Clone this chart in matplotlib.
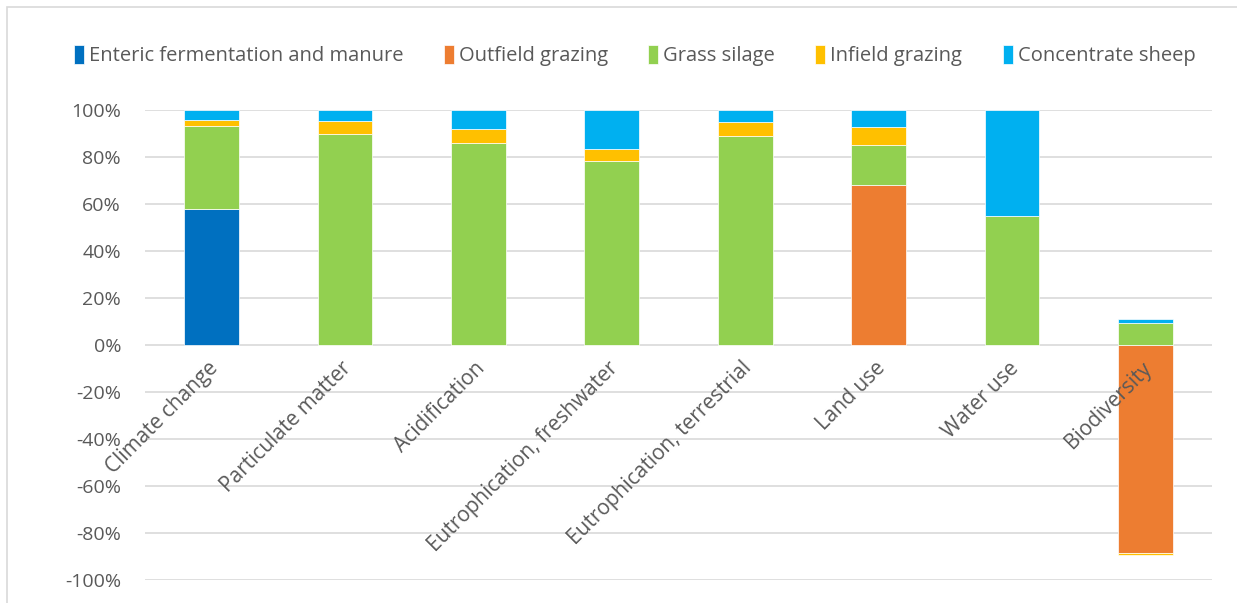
import matplotlib
matplotlib.use("Agg")
import matplotlib.pyplot as plt
from matplotlib.patches import Rectangle
from matplotlib.ticker import FuncFormatter
import numpy as np

categories = ["Climate change", "Particulate matter", "Acidification",
              "Eutrophication, freshwater", "Eutrophication, terrestrial",
              "Land use", "Water use", "Biodiversity"]

series_names = ["Enteric fermentation and manure", "Outfield grazing",
                "Grass silage", "Infield grazing", "Concentrate sheep"]

enteric = [57.7, 0, 0, 0, 0, 0, 0, 0]
outfield = [0, 0, 0, 0, 0, 68.1, 0, -88.7]
grass_silage = [35.3, 89.5, 85.9, 78.3, 88.7, 16.7, 54.9, 9.3]
infield = [2.5, 5.7, 5.8, 4.8, 5.9, 7.6, 0, -0.8]
concentrate = [4.5, 4.8, 8.3, 16.9, 5.4, 7.6, 45.1, 1.8]

colors = ["#0070C0", "#ED7D31", "#92D050", "#FFC000", "#00B0F0"]

plt.rcParams["font.family"] = ["Open Sans", "DejaVu Sans"]
text_color = "#595959"

fig = plt.figure(figsize=(12.37, 6.03), dpi=100)
ax = fig.add_axes([0.117, 0.0381, 0.863, 0.7803])

x = np.arange(len(categories))
width = 0.41
pos_base = np.zeros(len(categories))
neg_base = np.zeros(len(categories))
handles = []
for name, vals, col in zip(series_names,
                           [enteric, outfield, grass_silage, infield, concentrate],
                           colors):
    vals = np.array(vals, dtype=float)
    bottoms = np.where(vals >= 0, pos_base, neg_base)
    b = ax.bar(x, vals, width, bottom=bottoms, color=col,
               edgecolor="white", linewidth=0.5, label=name, zorder=3)
    handles.append(b)
    pos_base = pos_base + np.where(vals > 0, vals, 0)
    neg_base = neg_base + np.where(vals < 0, vals, 0)

ax.set_xlim(-0.5, len(categories) - 0.5)
ax.set_ylim(-100, 100)
ax.set_yticks(np.arange(-100, 101, 20))
ax.yaxis.set_major_formatter(FuncFormatter(lambda v, p: f"{int(round(v))}%"))
ax.tick_params(axis="y", length=0, pad=17, labelsize=14, labelcolor=text_color)
ax.set_xticks([])
ax.grid(axis="y", color="#d9d9d9", linewidth=1.2, zorder=0)
for s in ax.spines.values():
    s.set_visible(False)

for xi, cat in zip(x, categories):
    ax.text(xi - 0.03, -5.5, cat, rotation=45, rotation_mode="anchor",
            ha="right", va="top", fontsize=15, color=text_color, zorder=5)

leg = fig.legend(handles=handles, labels=series_names, loc="center",
                 bbox_to_anchor=(0.513, 0.908), ncol=5, frameon=False,
                 fontsize=14.5, handlelength=0.5, handleheight=1.1,
                 handletextpad=0.25, columnspacing=2.0, labelcolor=text_color)

# chart area border
fig.add_artist(Rectangle((0.0055, -0.1), 1.2, 1.088, transform=fig.transFigure,
                         fill=False, edgecolor="#d9d9d9", linewidth=1.2))

fig.savefig("out.png", dpi=100)
